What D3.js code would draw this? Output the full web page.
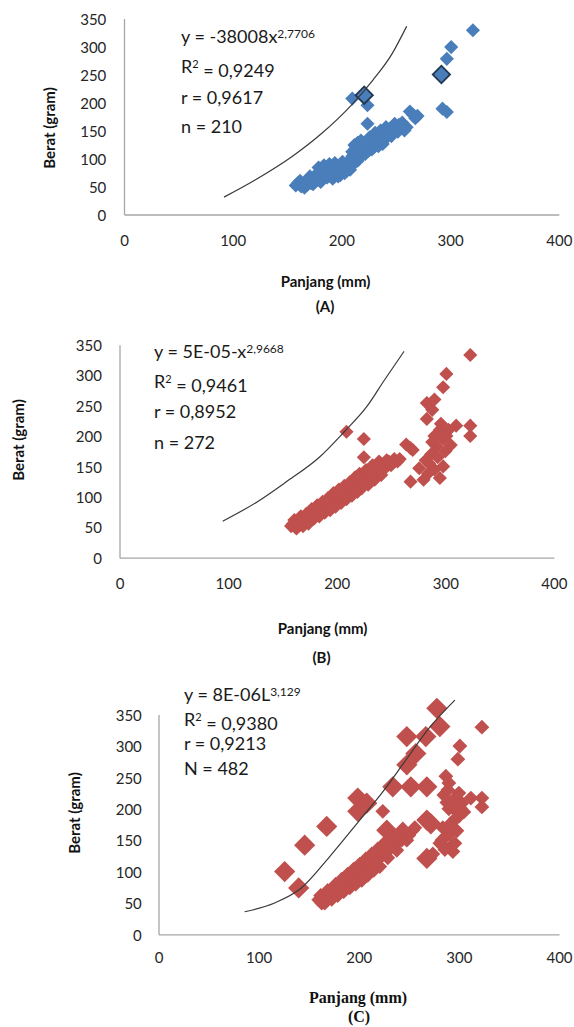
<!DOCTYPE html>
<html>
<head>
<meta charset="utf-8">
<script src="https://cdn.jsdelivr.net/npm/d3@7"></script>
<style>
  body { margin: 0; background: #fff; }
  svg { display: block; }
  .tick text { font-family: Lato, "Open Sans", sans-serif; font-size: 15px; fill: #262626; }
  .domain { stroke: #a6a6a6; stroke-width: 1.3; }
  .note { font-family: Lato, "Open Sans", sans-serif; font-size: 18px; fill: #1a1a1a; }
  .axis-title { font-family: Lato, "Open Sans", sans-serif; font-size: 15px; font-weight: bold; fill: #111; }
  .axis-title.serif { font-family: "Liberation Serif", "DejaVu Serif", serif; font-size: 16px; }
</style>
</head>
<body>
<div id="chart"></div>
<script>
const width = 574;
const height = 1027;

// tick values shared by all three panels
const xTicks = [0, 100, 200, 300, 400];
const yTicks = [0, 50, 100, 150, 200, 250, 300, 350];

// ----- panel A (blue) -----
const pointsA = [
  [158,52],[160,56],[163,50],[165,55],[167,58],[168,52],[170,60],[172,56],[173,64],[175,60],
  [176,68],[177,72],[178,62],[180,66],[180,76],[182,70],[183,80],[185,74],[186,84],[188,78],
  [190,82],[191,72],[193,86],[195,80],[196,76],[198,84],[199,70],[200,88],[202,82],[204,90],
  [205,78],[207,86],[209,96],[210,104],[210,112],[211,90],[212,100],[213,118],[214,108],[215,96],
  [216,114],[217,122],[218,104],[219,110],[220,126],[221,116],[223,120],[224,130],[225,114],[227,124],
  [229,134],[230,120],[232,128],[233,140],[235,132],[237,144],[238,126],[240,138],[242,150],[244,146],
  [246,140],[248,152],[250,158],[252,148],[255,156],[258,150],
  [162,60],[166,48],[171,68],[174,54],[179,84],[181,58],[184,88],[187,66],[189,90],[192,64],
  [194,92],[197,68],[201,94],[203,74],[206,92],[208,80],[212,124],[215,128],[218,132],[222,108],
  [226,138],[228,116],[231,146],[234,122],[236,150],[239,132],[241,156],[245,154],[249,162],[253,160],
  [256,164],[260,156],
  [210,207],[224,195],[224,162],[263,184],[266,178],[268,172],[270,176],
  [293,189],[297,183],[297,278],[301,299],[321,329]
];
const highlightA = [[221,213],[292,250]];
const trendA = [[92,31],[121,62],[155,104],[182,145],[209,195],[229,240],[246,285],[260,336]];
const noteA = ['y = -38008x', '2,7706', '0,9249', '0,9617', 'n = 210'];

// ----- panel B (red) -----
const pointsB = [
  [158,52],[160,56],[162,50],[164,58],[166,54],[168,62],[170,58],[171,66],[173,60],[175,70],
  [176,64],[178,74],[180,68],[181,78],[183,72],[185,82],[186,76],[188,86],[190,80],[191,92],
  [193,84],[195,96],[196,88],[198,100],[200,92],[201,104],[203,96],[205,110],[206,100],[208,114],
  [210,106],[211,118],[213,110],[215,122],[216,114],[218,126],[220,118],[222,130],[224,122],[226,136],
  [228,128],[230,140],[232,132],[234,146],[236,138],[238,150],[240,142],[243,154],[245,148],[248,158],
  [250,152],[253,162],[256,158],
  [161,62],[163,48],[167,68],[169,52],[172,72],[174,56],[177,80],[179,64],[182,86],[184,68],
  [187,92],[189,74],[192,98],[194,78],[197,106],[199,84],[202,112],[204,90],[207,118],[209,96],
  [212,124],[214,102],[217,132],[219,108],[221,138],[223,114],[227,144],[229,120],[233,152],[235,128],
  [239,158],[241,136],[246,160],[252,156],[258,162],
  [209,207],[225,195],[225,165],[264,186],[268,180],[270,177],[323,333],[301,302],[298,280],[283,254],
  [290,260],[288,243],[283,228],[310,217],[323,217],[323,200],
  [295,210],[292,183],[285,155],[295,131],[276,147],[268,125],[280,128],[301,200],[305,185],[290,200],
  [298,195],[287,170],[293,165],[282,160],[290,145],[300,175],[296,220],[288,190],[284,138],[298,150],
  [303,210]
];
const trendB = [[95,60],[127,92],[153,124],[184,165],[207,207],[228,249],[244,292],[262,339]];
const noteB = ['y = 5E-05-x', '2,9668', '0,9461', '0,8952', 'n = 272'];

// ----- panel C (red, two marker sizes) -----
const pointsCLarge = [
  [126,100],[140,74],[146,142],[168,172],[199,217],[199,196],[208,209],[234,235],[248,315],[252,235],
  [268,235],[248,270],[257,288],[267,315],[278,360],[281,331],[268,182],[272,176],[228,166],[268,121]
];
const pointsCSmall = [
  [160,55],[163,50],[165,58],[168,54],[170,62],[172,66],[174,60],[176,70],[178,76],[180,68],
  [182,80],[184,74],[186,84],[188,78],[190,90],[192,82],[194,96],[196,88],[198,100],[200,92],
  [202,106],[204,98],[206,112],[208,104],[210,116],[212,110],[214,122],[216,114],[218,128],[220,120],
  [222,134],[225,128],[228,142],[231,136],[234,150],[237,144],[240,156],[243,150],[246,162],[250,158],
  [254,166],[224,196],
  [162,62],[166,50],[169,70],[173,56],[177,80],[179,62],[183,88],[185,68],[189,96],[191,74],
  [195,104],[197,80],[201,112],[203,86],[207,120],[209,94],[213,128],[215,102],[219,136],[221,108],
  [226,146],[229,122],[235,158],[238,134],[244,168],[248,150],[256,170],
  [323,330],[301,300],[299,279],[287,252],[290,241],[285,222],[312,217],[323,217],[323,203],[296,198],
  [292,177],[287,156],[294,132],[281,145],[303,209],[300,188],[274,128],[290,200],[298,165],[284,170],
  [292,140],[305,195],[288,210],[295,215],[297,185],[291,160],[286,135],[302,200],[296,145],[283,150],
  [289,230],[300,225]
];
const trendC = [[86,36],[116,50],[142,73],[171,124],[201,182],[223,225],[245,273],[270,328],[296,373]];
const noteC = ['y = 8E-06L', '3,129', '0,9380', '0,9213', 'N = 482'];

const blue = '#4a7ebb';
const red = '#c0504d';

const svg = d3.select('#chart').append('svg')
  .attr('width', width)
  .attr('height', height);

// draws one scatter panel: axes, trend line, markers, note, titles
function drawPanel(p) {
  const x = d3.scaleLinear().domain([0, 400]).range([p.left, p.right]);
  const y = d3.scaleLinear().domain([0, 350]).range([p.bottom, p.top]);
  const g = svg.append('g');

  g.append('g')
    .attr('transform', `translate(0,${p.bottom})`)
    .call(d3.axisBottom(x).tickValues(xTicks).tickSize(0).tickSizeOuter(0).tickPadding(p.xPad));

  g.append('g')
    .attr('transform', `translate(${p.left},0)`)
    .call(d3.axisLeft(y).tickValues(yTicks).tickSize(0).tickSizeOuter(0).tickPadding(p.yPad))
    .selectAll('.tick text').attr('dy', '0.38em');

  const line = d3.line()
    .x(d => x(d[0]))
    .y(d => y(d[1]))
    .curve(d3.curveMonotoneX);

  // markers, squares turned 45 degrees like the spreadsheet diamonds
  p.series.forEach(s => {
    g.append('g').selectAll('path').data(s.data)
      .enter().append('path')
      .attr('d', d3.symbol().type(d3.symbolSquare).size(s.size))
      .attr('transform', d => `translate(${x(d[0])},${y(d[1])}) rotate(45)`)
      .attr('fill', s.color)
      .attr('stroke', s.stroke || 'none')
      .attr('stroke-width', s.stroke ? 1.8 : 0);
  });

  g.append('path')
    .datum(p.trend)
    .attr('d', line)
    .attr('fill', 'none')
    .attr('stroke', '#3a3a3a')
    .attr('stroke-width', 1.2);

  // equation and statistics
  const n = p.note;
  const t1 = g.append('text').attr('class', 'note').attr('x', p.noteX).attr('y', p.noteY[0]).attr('dy', '0.35em');
  t1.append('tspan').text(n[0]);
  t1.append('tspan').attr('dy', '-0.45em').style('font-size', '12px').text(n[1]);

  const t2 = g.append('text').attr('class', 'note').attr('x', p.noteX).attr('y', p.noteY[1]).attr('dy', '0.35em');
  t2.append('tspan').text('R');
  t2.append('tspan').attr('dy', '-0.5em').style('font-size', '11px').text('2');
  t2.append('tspan').attr('dy', '0.5em').text(' = ' + n[2]);

  g.append('text').attr('class', 'note').attr('x', p.noteX).attr('y', p.noteY[2]).attr('dy', '0.35em')
    .text('r = ' + n[3]);
  g.append('text').attr('class', 'note').attr('x', p.noteX).attr('y', p.noteY[3]).attr('dy', '0.35em')
    .text(n[4]);

  // axis titles
  g.append('text').attr('class', 'axis-title' + (p.serif ? ' serif' : ''))
    .attr('x', p.xTitle[0]).attr('y', p.xTitle[1]).attr('dy', '0.35em')
    .attr('text-anchor', 'middle').text('Panjang (mm)');
  g.append('text').attr('class', 'axis-title' + (p.serif ? ' serif' : ''))
    .attr('x', p.label[0]).attr('y', p.label[1]).attr('dy', '0.35em')
    .attr('text-anchor', 'middle').text(p.name);
  g.append('text').attr('class', 'axis-title')
    .attr('transform', `translate(${p.yTitle[0]},${p.yTitle[1]}) rotate(-90)`)
    .attr('dy', '0.35em')
    .attr('text-anchor', 'middle').text('Berat (gram)');
}

drawPanel({
  name: '(A)', left: 124, right: 558.8, bottom: 214.5, top: 18.5, xPad: 21, yPad: 17.7,
  series: [
    { data: pointsA, color: blue, size: 100 },
    { data: highlightA, color: blue, size: 150, stroke: '#22384f' }
  ],
  trend: trendA, note: noteA, noteX: 181, noteY: [37, 67, 98, 127],
  xTitle: [325.5, 282], label: [325, 307], yTitle: [49.5, 128]
});

drawPanel({
  name: '(B)', left: 119.5, right: 553.9, bottom: 557.7, top: 344.7, xPad: 21, yPad: 17.6,
  series: [{ data: pointsB, color: red, size: 100 }],
  trend: trendB, note: noteB, noteX: 154, noteY: [352, 382, 412, 443],
  xTitle: [322.6, 629], label: [321.5, 658], yTitle: [18.3, 440]
});

drawPanel({
  name: '(C)', left: 158.5, right: 559, bottom: 934.4, top: 714.6, xPad: 18, yPad: 16.7, serif: true,
  series: [
    { data: pointsCSmall, color: red, size: 110 },
    { data: pointsCLarge, color: red, size: 225 }
  ],
  trend: trendC, note: noteC, noteX: 184, noteY: [695, 720, 744, 769],
  xTitle: [358, 997], label: [359, 1016], yTitle: [75, 813]
});
</script>
</body>
</html>
